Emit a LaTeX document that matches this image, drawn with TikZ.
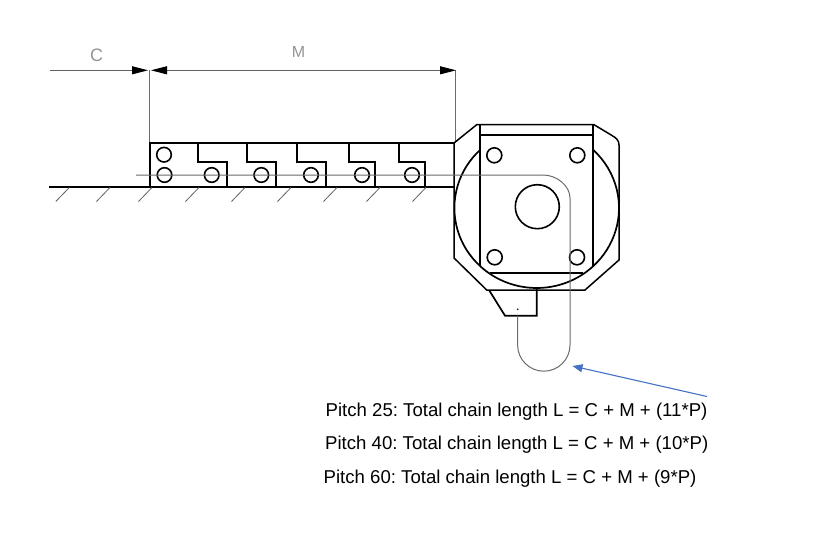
\documentclass[tikz,border=0pt]{standalone}
\usepackage{fontspec}
\setmainfont{Liberation Sans}
\usetikzlibrary{arrows.meta}
\frenchspacing
\tikzset{
  x=1pt,y=-1pt,
  part/.style={draw=black,line width=1.7pt,line join=miter},
  thin gray/.style={draw=black!58,line width=1pt},
  hatch/.style={draw=black!62,line width=0.8pt},
  hole/.style={draw=black,line width=1.6pt},
  dimtip/.tip={Triangle[length=16pt,width=8pt,fill=black,color=black]},
  dim/.style={draw=black!62,line width=0.9pt},
  dimtext/.style={text=black!42,inner sep=0pt},
  lbl/.style={font=\fontsize{18.6}{21}\selectfont,anchor=base west,inner sep=0pt,text=black},
}
\begin{document}
\begin{tikzpicture}
\path[use as bounding box,fill=white] (0,0) rectangle (824,554);
% named points of the dimension lines
\coordinate (cL) at (50,70.3);
\coordinate (cR) at (148,70.3);
\coordinate (mL) at (151,70.3);
\coordinate (mR) at (456,70.3);
\coordinate (e1t) at (149.3,70.3);
\coordinate (e1b) at (149.3,143);
\coordinate (e2t) at (455.7,70.3);
\coordinate (e2b) at (455.7,143);
\coordinate (arrT) at (707,396.5);
\coordinate (arrH) at (572.5,366);
% extension and dimension lines
\draw[thin gray] (e1t) -- (e1b);
\draw[thin gray] (e2t) -- (e2b);
\draw[dim,-dimtip] (cL) -- (cR);
\draw[dim,dimtip-dimtip] (mL) -- (mR);
\node[dimtext,font=\fontsize{18}{20}\selectfont] (labC) at (96.5,55.5) {C};
\node[dimtext,font=\fontsize{16}{18}\selectfont] (labM) at (298.5,52) {M};
% ground
\draw[part,line width=2.1pt] (49,186.8) -- (230,186.8);
\draw[part] (230,186.8) -- (454,186.8);
\foreach \a in {69.3,110,152,199,245,291,337,380,426}
  \draw[hatch] (\a,187.5) -- (\a-13.5,201.5);
% chain links
\draw[part] (150.3,186.8) -- (150.3,142.8) -- (454,142.8);
\foreach \a/\b in {198.2/226.7,247.3/275.7,297.3/326,349/375.3,399.3/425}
  \draw[part] (\a,142.8) -- (\a,162.3) -- (\b,162.3) -- (\b,186.8);
\foreach \a/\b in {164/154.7,164.5/175,211.7/175,261.3/175,311/175,362/175,412/175}
  \draw[hole] (\a,\b) circle[radius=7.3];
% gearbox
\draw[part,line width=1.5pt] (476.7,124.7) -- (594,124.7) -- (612,135.5) .. controls (616,138) and (619,140) .. (619,145) -- (619,260) -- (585,290) -- (486.7,290) -- (454,258) -- (454,143) -- cycle;
\draw[part] (480,124.7) -- (480,265.5);
\draw[part] (592.7,124.7) -- (592.7,265.5);
\draw[part] (480,135) -- (592.7,135);
\draw[part] (490,273) -- (583,273);
\draw[part] (536.7,208) ++(226.5:82.3 and 80) arc[start angle=226.5,end angle=-46.5,x radius=82.3,y radius=80];
\foreach \a/\b in {494.3/155.3,577.3/155.3,494.7/257.3,577/257.3}
  \draw[hole] (\a,\b) circle[radius=7.5];
\draw[hole] (537.3,206.7) circle[radius=22];
% bracket
\draw[part] (489.3,290.5) -- (505,315.7) -- (536.7,315.7) -- (536.7,288);
\fill (517.7,309.3) circle[radius=0.9];
% chain centre line
\draw[thin gray] (136,175) -- (543,175) .. controls (557,175) and (570,186) .. (570,198) -- (570,345) arc[start angle=0,end angle=180,radius=26.2] -- (517.6,315.7);
% blue leader
\draw[draw={rgb,255:red,68;green,114;blue,196},line width=1.1pt,-{Triangle[length=10pt,width=8pt]}] (arrT) -- (arrH);
% formula text
\node[lbl] (t1) at (325.5,416.5) {Pitch 25: Total chain length L = C + M + (11*P)};
\node[lbl] (t2) at (325,449.5) {Pitch 40: Total chain length L = C + M + (10*P)};
\node[lbl] (t3) at (323.5,483.5) {Pitch 60: Total chain length L = C + M + (9*P)};
\end{tikzpicture}
\end{document}
